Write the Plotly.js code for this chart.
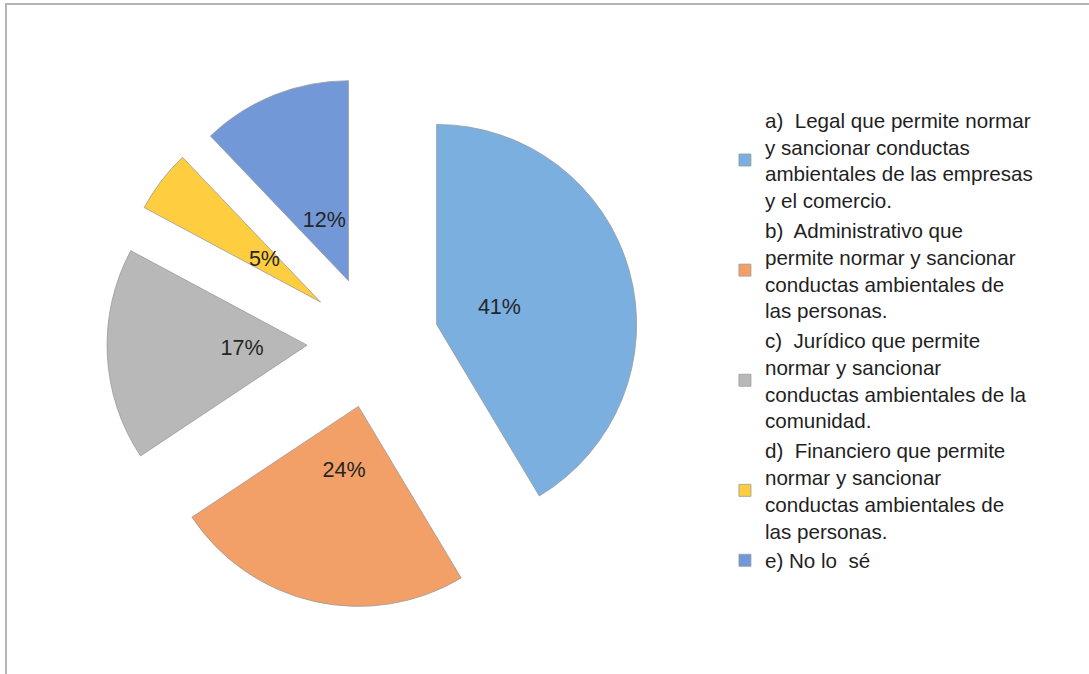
<!DOCTYPE html>
<html>
<head>
<meta charset="utf-8">
<script src="https://cdn.plot.ly/plotly-3.0.1.min.js"></script>
<style>
  html, body { margin: 0; padding: 0; background: #fff; }
  #frame { position: absolute; left: 5px; top: 3px; width: 1084px; height: 671px;
           border-top: 2px solid #b4b4b4; border-left: 2px solid #b4b4b4; }
  #chart { position: absolute; left: 0; top: 0; width: 1089px; height: 674px; }
</style>
</head>
<body>
<div id="frame"></div>
<div id="chart"></div>
<script>
const categories = [
  "a)  Legal que permite normar<br>y sancionar conductas<br>ambientales de las empresas<br>y el comercio.",
  "b)  Administrativo que<br>permite normar y sancionar<br>conductas ambientales de<br>las personas.",
  "c)  Jurídico que permite<br>normar y sancionar<br>conductas ambientales de la<br>comunidad.",
  "d)  Financiero que permite<br>normar y sancionar<br>conductas ambientales de<br>las personas.",
  "e) No lo  sé"
];
const percentages = [41, 24, 17, 5, 12];
const sliceColors = ["#7aafe0", "#f2a067", "#b8b8b8", "#fecd40", "#7398d7"];
const pulls = [0.33, 0.33, 0.33, 0.33, 0.33];

// layout geometry (pixels)
const W = 1089, H = 674, T = 76, B = 66;
const CX = 373, CY = 342;
const plotH = H - T - B;
const labelR = 158;   // radius of the invisible label ring

const FONT = "Liberation Sans, Arial, sans-serif";

const pieTrace = {
  type: "pie",
  labels: categories,
  values: percentages,
  sort: false,
  direction: "clockwise",
  rotation: 0,
  pull: pulls,
  textinfo: "none",
  marker: { colors: sliceColors, line: { color: "#9a9a9a", width: 0.8 } },
  domain: { x: [0.09, 0.595], y: [0, 1] },
  hoverinfo: "label+percent"
};

// transparent ring trace carrying the data labels at the same angles
const labelTrace = {
  type: "pie",
  labels: categories,
  values: percentages,
  sort: false,
  direction: "clockwise",
  rotation: 0,
  hole: 0.66,
  showlegend: false,
  texttemplate: "%{value}%",
  textposition: "inside",
  insidetextorientation: "horizontal",
  textfont: { family: FONT, size: 21.5, color: "#262626" },
  marker: { colors: ["rgba(0,0,0,0)","rgba(0,0,0,0)","rgba(0,0,0,0)","rgba(0,0,0,0)","rgba(0,0,0,0)"],
            line: { width: 0 } },
  domain: {
    x: [(CX - labelR) / W, (CX + labelR) / W],
    y: [(H - B - (CY + labelR)) / plotH, (H - B - (CY - labelR)) / plotH]
  },
  hoverinfo: "skip"
};

const layout = {
  width: W,
  height: H,
  margin: { l: 0, r: 0, t: T, b: B },
  paper_bgcolor: "rgba(0,0,0,0)",
  plot_bgcolor: "rgba(0,0,0,0)",
  showlegend: true,
  legend: {
    x: 0.6657, xanchor: "left",
    y: 0.955, yanchor: "top",
    font: { family: FONT, size: 20.6, color: "#1f1f1f" },
    traceorder: "normal",
    itemwidth: 30,
    valign: "middle"
  }
};

Plotly.newPlot("chart", [pieTrace, labelTrace], layout, { displayModeBar: false, staticPlot: true });
</script>
</body>
</html>
